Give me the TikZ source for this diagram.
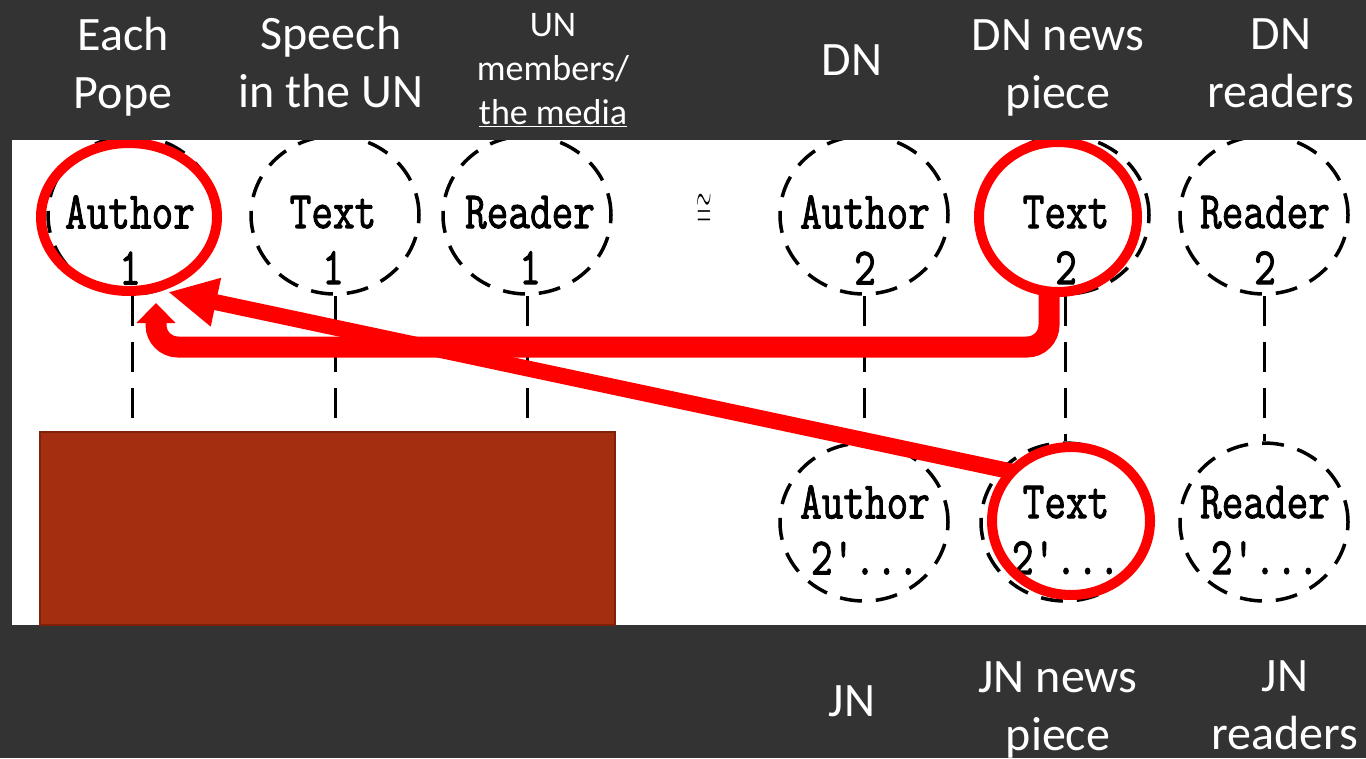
\documentclass[tikz,border=0pt]{standalone}
\usepackage{fontspec}
\usepackage{graphicx}
\setmainfont{Carlito}
\newfontfamily\scanfont[FakeBold=2]{Latin Modern Mono}
\usetikzlibrary{arrows.meta,shapes.geometric}
\definecolor{slide}{RGB}{51,51,51}
\definecolor{brick}{RGB}{164,46,16}
\definecolor{brickedge}{RGB}{128,34,10}
\tikzset{
	scan/.style={ellipse, draw, line width=3.5pt, dash pattern=on 22pt off 14pt, minimum width=168pt, minimum height=158pt, inner sep=0pt},
	scantext/.style={font=\fontsize{42}{56}\selectfont\scanfont, align=center, inner sep=0pt},
	link/.style={line width=3pt, dash pattern=on 30pt off 16pt},
	ring/.style={ellipse, draw=red, line width=10pt, inner sep=0pt, outer sep=0pt},
	redline/.style={draw=red},
	title/.style={text=white, font=\fontsize{48}{58}\selectfont, align=center, inner sep=0pt},
}
\newcommand\tall[1]{\scalebox{1}[1.25]{#1}}

\begin{document}
\begin{tikzpicture}[x=1pt, y=-1pt]
		\fill[slide] (0,0) rectangle (1366,758);
		\useasboundingbox (0,0) rectangle (1366,758);
		\fill[white] (12,140) rectangle (1366,625);

		\begin{scope}
		\clip (12,140) rectangle (1366,625);
		% first row
		\node (a1)[scan] at (132,215) {};
		\node (t1)[scan] at (335,215) {};
		\node (r1)[scan] at (527,215) {};
		\node (a2)[scan] at (864,215) {};
		\node (t2)[scan] at (1065,215) {};
		\node (r2)[scan] at (1264,215) {};
		% second row
		\node (a2p)[scan] at (864,522) {};
		\node (t2p)[scan] at (1065,522) {};
		\node (r2p)[scan] at (1264,522) {};

		\node (a1txt)[scantext] at (130,240) {\tall{Author}\\\tall{1}};
		\node (t1txt)[scantext] at (333,240) {\tall{Text}\\\tall{1}};
		\node (r1txt)[scantext] at (530,240) {\tall{Reader}\\\tall{1}};
		\node (a2txt)[scantext] at (865,240) {\tall{Author}\\\tall{2}};
		\node (t2txt)[scantext] at (1066,240) {\tall{Text}\\\tall{2}};
		\node (r2txt)[scantext] at (1265,240) {\tall{Reader}\\\tall{2}};
		\node (a2ptxt)[scantext] at (865,530) {\tall{Author}\\\tall{2'...}};
		\node (t2ptxt)[scantext] at (1066,530) {\tall{Text}\\\tall{2'...}};
		\node (r2ptxt)[scantext] at (1265,530) {\tall{Reader}\\\tall{2'...}};

		\node (approx) at (704,211) {\fontsize{26}{26}\selectfont\scalebox{0.8}[1.9]{$\cong$}};

		\node (blk)[rectangle, fill=brick, draw=brickedge, line width=2pt, minimum width=575pt, minimum height=193pt, inner sep=0pt] at (327.5,528.5) {};

		\draw[link] (a1.south) -- (a1.south |- blk.north);
		\draw[link] (t1.south) -- (t1.south |- blk.north);
		\draw[link] (r1.south) -- (r1.south |- blk.north);
		\draw[link] (a2) -- (a2p);
		\draw[link] (t2) -- (t2p);
		\draw[link] (r2) -- (r2p);

		% highlights
		\node (hlA1)[ring, minimum width=176pt, minimum height=148pt] at (129,217) {};
		\node (hlT2)[ring, minimum width=158pt, minimum height=150pt] at (1058,217) {};
		\node (hlT2p)[ring, minimum width=158pt, minimum height=148pt] at (1071,521) {};

		\coordinate (elbow) at (156,347);
		\coordinate (tipA) at (156,303);
		\coordinate (tipB) at (168,292);
		\draw[redline, line width=21pt, rounded corners=22pt, -{Triangle[length=20pt,width=38pt]}] ([xshift=-9pt]hlT2.south) |- (elbow) -- (tipA);
		\draw[redline, line width=16pt, -{Triangle[length=49pt,width=46pt]}] (hlT2p.140) -- (tipB);
		\end{scope}

		% labels on the slide
		\node (each)[title] at (123,67) {Each\\Pope};
		\node (speech)[title] at (331,62) {Speech\\in the UN};
		\node (members)[title, font=\fontsize{36}{44}\selectfont] at (553,70) {UN\\members/\\\underline{the media}};
		\node (dn)[title] at (852,60) {DN};
		\node (dnpiece)[title] at (1058,68) {DN news\\piece};
		\node (dnread)[title] at (1281,63) {DN\\readers};
		\node (jn)[title] at (852,701) {JN};
		\node (jnpiece)[title] at (1058,710) {JN news\\piece};
		\node (jnread)[title] at (1285,705) {JN\\readers};
	\end{tikzpicture}
\end{document}
